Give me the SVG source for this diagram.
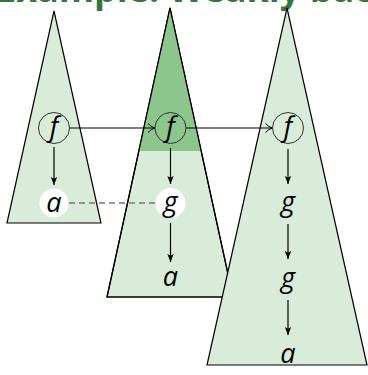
<svg xmlns="http://www.w3.org/2000/svg" width="368" height="375" viewBox="0 0 368 375">
<defs>
<style>
.title{font-family:"Open Sans","DejaVu Sans",sans-serif;font-weight:bold;font-size:36px;fill:#33773e}
.tri{fill:#d9ecd9;stroke:#000;stroke-width:1.2;stroke-linejoin:miter}
.dark{fill:#8cc68c}
.lbl{font-family:"Open Sans","Noto Sans","DejaVu Sans",sans-serif;font-style:italic;font-size:27px;fill:#000;text-anchor:middle}
.ring{fill:none;stroke:#333;stroke-width:1}
.hole{fill:#fff}
.arr{stroke:#000;stroke-width:1.2;fill:none}
.dash{stroke:#777;stroke-width:1.4;stroke-dasharray:6 4;fill:none}
</style>
<marker id="stealth" markerUnits="userSpaceOnUse" markerWidth="10" markerHeight="10" refX="8" refY="4" orient="auto">
<path d="M0,0.8 L8,4 L0,7.2 L1.8,4 Z" fill="#000"/>
</marker>
<marker id="open" markerUnits="userSpaceOnUse" markerWidth="10" markerHeight="12" refX="8" refY="5" orient="auto">
<path d="M1,0.5 Q4,4 8,5 Q4,6 1,9.5" fill="none" stroke="#000" stroke-width="1"/>
</marker>
</defs>
<text class="title" x="-4" y="1.5">Example: Weakly bac</text>
<g id="tree1">
<polygon class="tri" points="54,11 101,223 7,223"/>
</g>
<g id="tree2">
<polygon class="tri" points="170,8 233,297 107,297"/>
<polygon class="dark" points="170,8.8 201.2,151 138.8,151"/>
<polygon points="170,8 233,297 107,297" fill="none" stroke="#000" stroke-width="1.2"/>
</g>
<g id="tree3">
<polygon class="tri" points="287,8 367,365 207,365"/>
</g>
<g id="connectors">
<line class="arr" x1="69.5" y1="128" x2="155" y2="128" marker-end="url(#open)"/>
<line class="arr" x1="186" y1="128" x2="272.5" y2="128" marker-end="url(#open)"/>
<line class="arr" x1="54" y1="147" x2="54" y2="185" marker-end="url(#stealth)"/>
<line class="arr" x1="170.5" y1="148" x2="170.5" y2="184" marker-end="url(#stealth)"/>
<line class="arr" x1="170.5" y1="223" x2="170.5" y2="262" marker-end="url(#stealth)"/>
<line class="arr" x1="288" y1="149" x2="288" y2="184" marker-end="url(#stealth)"/>
<line class="arr" x1="288" y1="224" x2="288" y2="259" marker-end="url(#stealth)"/>
<line class="arr" x1="288" y1="300" x2="288" y2="335" marker-end="url(#stealth)"/>
<line class="dash" x1="69" y1="203" x2="155" y2="203"/>
</g>
<g id="n1f"><circle class="ring" cx="54" cy="128" r="15.5"/><text class="lbl" x="54" y="136">f</text></g>
<g id="n1a"><circle class="hole" cx="54" cy="203" r="14.5"/><text class="lbl" x="54" y="211.5">a</text></g>
<g id="n2f"><circle class="ring" cx="170.5" cy="128" r="15.5"/><text class="lbl" x="170.5" y="136">f</text></g>
<g id="n2g"><circle class="hole" cx="170.5" cy="203" r="15"/><text class="lbl" x="170.5" y="211">g</text></g>
<g id="n2a"><text class="lbl" x="170.5" y="285.5">a</text></g>
<g id="n3f"><circle class="ring" cx="288" cy="128" r="15.5"/><text class="lbl" x="288" y="136">f</text></g>
<g id="n3g1"><text class="lbl" x="288" y="211">g</text></g>
<g id="n3g2"><text class="lbl" x="288" y="287">g</text></g>
<g id="n3a"><text class="lbl" x="288" y="362.5">a</text></g>
</svg>
